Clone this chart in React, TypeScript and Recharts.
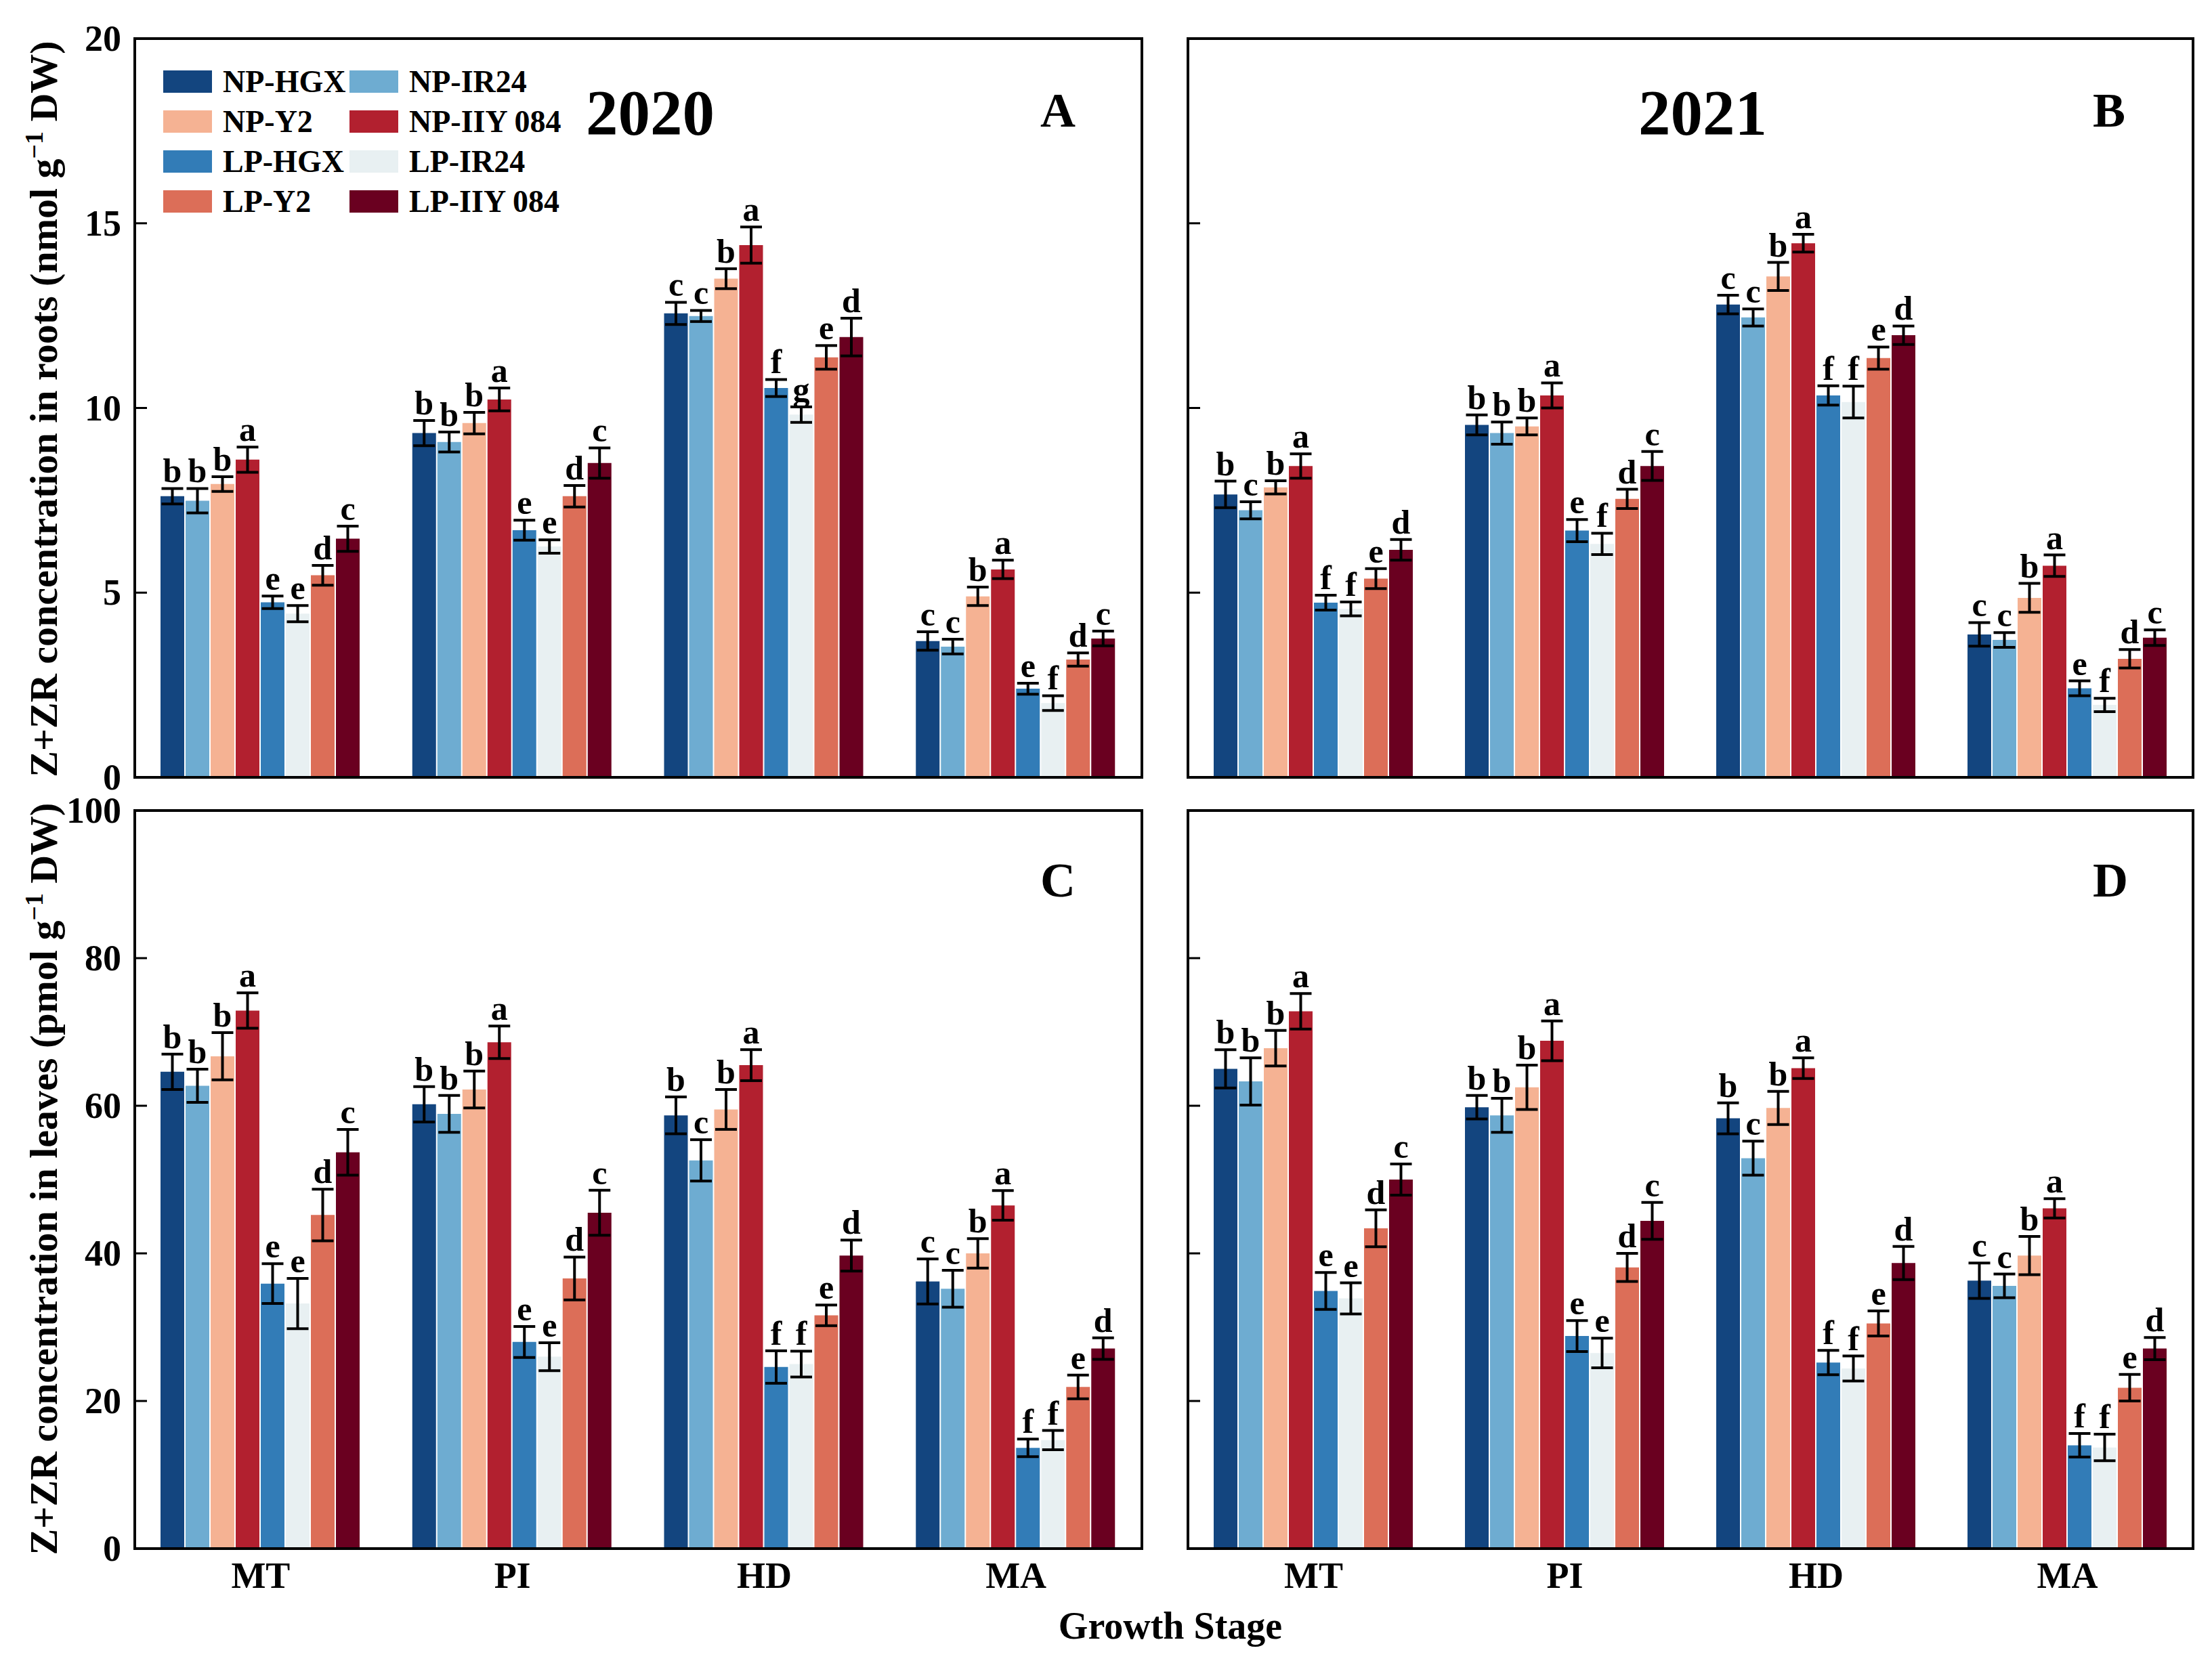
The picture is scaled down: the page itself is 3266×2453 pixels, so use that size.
import React from 'react';
import { BarChart, Bar, XAxis, YAxis, ErrorBar, LabelList } from 'recharts';

const stages = ['MT', 'PI', 'HD', 'MA'];
const seriesNames = ['NP-HGX', 'NP-IR24', 'NP-Y2', 'NP-IIY 084', 'LP-HGX', 'LP-IR24', 'LP-Y2', 'LP-IIY 084'];
const seriesColors = ['#13457f', '#6eacd1', '#f5b293', '#b2202f', '#327cb7', '#e8f0f2', '#dc6e58', '#6a0020'];

const rootTicks = [0, 5, 10, 15, 20];
const leafTicks = [0, 20, 40, 60, 80, 100];

// Panel A: roots 2020
const rootsMean2020 = [
  [7.61, 7.49, 7.94, 8.6, 4.74, 4.43, 5.47, 6.46],
  [9.32, 9.08, 9.59, 10.23, 6.69, 6.25, 7.61, 8.51],
  [12.56, 12.49, 13.5, 14.41, 10.54, 9.82, 11.37, 11.92],
  [3.69, 3.54, 4.9, 5.63, 2.4, 2.01, 3.19, 3.76],
];
const rootsErr2020 = [
  [0.21, 0.33, 0.2, 0.34, 0.17, 0.22, 0.27, 0.34],
  [0.34, 0.27, 0.29, 0.31, 0.27, 0.18, 0.29, 0.41],
  [0.3, 0.15, 0.27, 0.49, 0.23, 0.21, 0.32, 0.51],
  [0.25, 0.2, 0.25, 0.25, 0.15, 0.2, 0.18, 0.2],
];
const rootsLetters2020 = [
  ['b', 'b', 'b', 'a', 'e', 'e', 'd', 'c'],
  ['b', 'b', 'b', 'a', 'e', 'e', 'd', 'c'],
  ['c', 'c', 'b', 'a', 'f', 'g', 'e', 'd'],
  ['c', 'c', 'b', 'a', 'e', 'f', 'd', 'c'],
];

// Panel B: roots 2021
const rootsMean2021 = [
  [7.66, 7.23, 7.85, 8.43, 4.73, 4.56, 5.38, 6.16],
  [9.54, 9.32, 9.5, 10.34, 6.68, 6.32, 7.54, 8.43],
  [12.8, 12.45, 13.56, 14.46, 10.34, 10.16, 11.35, 11.97],
  [3.87, 3.72, 4.86, 5.73, 2.41, 1.96, 3.21, 3.78],
];
const rootsErr2021 = [
  [0.36, 0.23, 0.18, 0.33, 0.2, 0.19, 0.27, 0.28],
  [0.27, 0.3, 0.23, 0.34, 0.3, 0.29, 0.26, 0.39],
  [0.25, 0.23, 0.38, 0.24, 0.26, 0.43, 0.3, 0.25],
  [0.32, 0.2, 0.39, 0.29, 0.2, 0.18, 0.25, 0.21],
];
const rootsLetters2021 = [
  ['b', 'c', 'b', 'a', 'f', 'f', 'e', 'd'],
  ['b', 'b', 'b', 'a', 'e', 'f', 'd', 'c'],
  ['c', 'c', 'b', 'a', 'f', 'f', 'e', 'd'],
  ['c', 'c', 'b', 'a', 'e', 'f', 'd', 'c'],
];

// Panel C: leaves 2020
const leavesMean2020 = [
  [64.6, 62.7, 66.7, 72.9, 35.9, 33.2, 45.2, 53.7],
  [60.2, 58.9, 62.2, 68.6, 28.0, 26.0, 36.6, 45.5],
  [58.7, 52.6, 59.5, 65.5, 24.6, 25.0, 31.6, 39.7],
  [36.2, 35.2, 40.0, 46.5, 13.65, 14.7, 21.9, 27.1],
];
const leavesErr2020 = [
  [2.4, 2.25, 3.2, 2.4, 2.7, 3.4, 3.5, 3.1],
  [2.4, 2.5, 2.5, 2.2, 2.1, 1.9, 2.9, 3.05],
  [2.5, 2.8, 2.7, 2.1, 2.2, 1.75, 1.4, 2.1],
  [3.05, 2.5, 2.0, 2.0, 1.2, 1.3, 1.6, 1.45],
];
const leavesLetters2020 = [
  ['b', 'b', 'b', 'a', 'e', 'e', 'd', 'c'],
  ['b', 'b', 'b', 'a', 'e', 'e', 'd', 'c'],
  ['b', 'c', 'b', 'a', 'f', 'f', 'e', 'd'],
  ['c', 'c', 'b', 'a', 'f', 'f', 'e', 'd'],
];

// Panel D: leaves 2021
const leavesMean2021 = [
  [65.0, 63.3, 67.8, 72.8, 34.9, 33.9, 43.4, 50.0],
  [59.8, 58.7, 62.5, 68.8, 28.8, 26.5, 38.1, 44.4],
  [58.3, 52.9, 59.7, 65.1, 25.2, 24.4, 30.5, 38.7],
  [36.3, 35.6, 39.7, 46.1, 14.0, 13.7, 21.8, 27.1],
];
const leavesErr2021 = [
  [2.6, 3.2, 2.4, 2.4, 2.5, 2.1, 2.5, 2.1],
  [1.6, 2.3, 3.0, 2.7, 2.1, 2.0, 1.9, 2.5],
  [2.1, 2.3, 2.25, 1.4, 1.65, 1.7, 1.7, 2.25],
  [2.4, 1.6, 2.6, 1.3, 1.6, 1.8, 1.8, 1.5],
];
const leavesLetters2021 = [
  ['b', 'b', 'b', 'a', 'e', 'e', 'd', 'c'],
  ['b', 'b', 'b', 'a', 'e', 'e', 'd', 'c'],
  ['b', 'c', 'b', 'a', 'f', 'f', 'e', 'd'],
  ['c', 'c', 'b', 'a', 'f', 'f', 'e', 'd'],
];

const FONT = '"Liberation Serif", "Times New Roman", serif';

function buildRows(mean: number[][], err: number[][], letters: string[][]) {
  return stages.map((stage, i) => {
    const r: any = { stage };
    seriesNames.forEach((_, j) => {
      r['m' + j] = mean[i][j];
      r['e' + j] = err[i][j];
      r['l' + j] = `${letters[i][j]}|${err[i][j]}|${mean[i][j]}`;
    });
    return r;
  });
}

const renderLetter = (props: any) => {
  const vb = props.viewBox || {};
  const x = vb.x ?? props.x;
  const y = vb.y ?? props.y;
  const w = vb.width ?? props.width;
  const h = vb.height ?? props.height;
  if (props.value == null || x == null) return null;
  const [letter, errS, meanS] = String(props.value).split('|');
  const mean = parseFloat(meanS);
  const err = parseFloat(errS);
  const top = Math.min(y, y + h);
  const pxPerUnit = Math.abs(h) / mean;
  const errTop = top - err * pxPerUnit;
  return (
    <text
      x={x + w / 2}
      y={errTop - 9}
      textAnchor="middle"
      fontSize={50}
      fontWeight="bold"
      fontFamily={FONT}
      fill="#000"
    >
      {letter}
    </text>
  );
};

// axis line sits at x + 21 (tickMargin + axis width); inward tick marks drawn from there
const makeYTick = (showLabel: boolean) => (props: any) => {
  const { x, y, payload } = props;
  return (
    <g>
      <line x1={x + 21} x2={x + 38} y1={y} y2={y} stroke="#000" strokeWidth={3} />
      {showLabel && (
        <text x={x} y={y} textAnchor="end" dominantBaseline="central" fontSize={54} fontWeight="bold" fontFamily={FONT} fill="#000">
          {payload.value}
        </text>
      )}
    </g>
  );
};

type PanelProps = {
  left: number;
  top: number;
  width: number;
  height: number;
  margin: { top: number; left: number; right: number; bottom: number };
  rows: any[];
  domain: [number, number];
  ticks: number[];
  showYLabels: boolean;
  showXLabels: boolean;
};

function Panel(p: PanelProps) {
  // the y axis takes 1px, the x axis takes 1px
  const plotX = p.left + p.margin.left + 1;
  const plotY = p.top + p.margin.top;
  const plotW = p.width - p.margin.left - 1 - p.margin.right;
  const plotH = p.height - p.margin.top - p.margin.bottom - 1;
  return (
    <>
      <div style={{ position: 'absolute', left: p.left, top: p.top }}>
        <BarChart width={p.width} height={p.height} data={p.rows} margin={p.margin} barCategoryGap={38} barGap={2}>
          <XAxis
            dataKey="stage"
            axisLine={false}
            tickLine={false}
            height={1}
            tickSize={0}
            tickMargin={20}
            interval={0}
            tick={p.showXLabels ? { fontSize: 54, fill: '#000', fontWeight: 'bold', fontFamily: FONT } : false}
          />
          <YAxis
            domain={p.domain}
            ticks={p.ticks}
            width={1}
            axisLine={false}
            tickLine={false}
            tickSize={0}
            tickMargin={20}
            interval={0}
            allowDataOverflow
            tick={makeYTick(p.showYLabels)}
          />
          {seriesNames.map((n, j) => (
            <Bar key={n} dataKey={'m' + j} name={n} fill={seriesColors[j]} isAnimationActive={false}>
              <ErrorBar dataKey={'e' + j} width={16} strokeWidth={4} stroke="#000" direction="y" isAnimationActive={false} />
              <LabelList dataKey={'l' + j} content={renderLetter} />
            </Bar>
          ))}
        </BarChart>
      </div>
      <div
        style={{
          position: 'absolute',
          left: plotX - 2,
          top: plotY - 2,
          width: plotW + 4,
          height: plotH + 4,
          border: '4px solid #000',
          boxSizing: 'border-box',
          pointerEvents: 'none',
        }}
      />
    </>
  );
}

const centered = (x: number, y: number, size: number, extra: any = {}) => ({
  position: 'absolute' as const,
  left: x,
  top: y,
  transform: 'translate(-50%, -50%)',
  fontSize: size,
  fontWeight: 'bold' as const,
  fontFamily: FONT,
  lineHeight: 1,
  whiteSpace: 'nowrap' as const,
  color: '#000',
  ...extra,
});

export default function App() {
  const rowsA = buildRows(rootsMean2020, rootsErr2020, rootsLetters2020);
  const rowsB = buildRows(rootsMean2021, rootsErr2021, rootsLetters2021);
  const rowsC = buildRows(leavesMean2020, leavesErr2020, leavesLetters2020);
  const rowsD = buildRows(leavesMean2021, leavesErr2021, leavesLetters2021);
  return (
    <div style={{ position: 'absolute', left: 0, top: 0, width: 3266, height: 2453, background: '#fff', fontFamily: FONT, overflow: 'hidden' }}>
      <Panel left={0} top={1160} width={1700} height={1240} margin={{ top: 37, left: 198, right: 14, bottom: 112 }} rows={rowsC} domain={[0, 100]} ticks={leafTicks} showYLabels showXLabels />
      <Panel left={1700} top={1160} width={1566} height={1240} margin={{ top: 37, left: 53, right: 28, bottom: 112 }} rows={rowsD} domain={[0, 100]} ticks={leafTicks} showYLabels={false} showXLabels />
      <Panel left={0} top={0} width={1700} height={1190} margin={{ top: 57, left: 198, right: 14, bottom: 41 }} rows={rowsA} domain={[0, 20]} ticks={rootTicks} showYLabels showXLabels={false} />
      <Panel left={1700} top={0} width={1566} height={1190} margin={{ top: 57, left: 53, right: 28, bottom: 41 }} rows={rowsB} domain={[0, 20]} ticks={rootTicks} showYLabels={false} showXLabels={false} />

      {/* legend */}
      {seriesNames.map((n, j) => {
        const col = j % 2;
        const row = Math.floor(j / 2);
        const sx = col === 0 ? 241 : 516;
        const sy = 104 + row * 59;
        return (
          <React.Fragment key={n}>
            <div style={{ position: 'absolute', left: sx, top: sy, width: 72, height: 33, background: seriesColors[j] }} />
            <div style={{ position: 'absolute', left: sx + 88, top: sy + 16.5, transform: 'translateY(-50%)', fontSize: 46, fontWeight: 'bold', fontFamily: FONT, lineHeight: 1, whiteSpace: 'nowrap' }}>
              {n}
            </div>
          </React.Fragment>
        );
      })}

      <div style={centered(960, 167, 95)}>2020</div>
      <div style={centered(1562, 163, 72)}>A</div>
      <div style={centered(2514, 167, 95)}>2021</div>
      <div style={centered(3114, 163, 72)}>B</div>
      <div style={centered(1562, 1300, 72)}>C</div>
      <div style={centered(3116, 1300, 72)}>D</div>

      <div style={centered(65, 604, 58, { transform: 'translate(-50%, -50%) rotate(-90deg)' })}>
        Z+ZR concentration in roots (nmol g<sup style={{ fontSize: '0.65em', verticalAlign: '0.55em', lineHeight: 0 }}>−1</sup> DW)
      </div>
      <div style={centered(65, 1741, 58, { transform: 'translate(-50%, -50%) rotate(-90deg)' })}>
        Z+ZR concentration in leaves (pmol g<sup style={{ fontSize: '0.65em', verticalAlign: '0.55em', lineHeight: 0 }}>−1</sup> DW)
      </div>
      <div style={centered(1728, 2401, 56)}>Growth Stage</div>
    </div>
  );
}
